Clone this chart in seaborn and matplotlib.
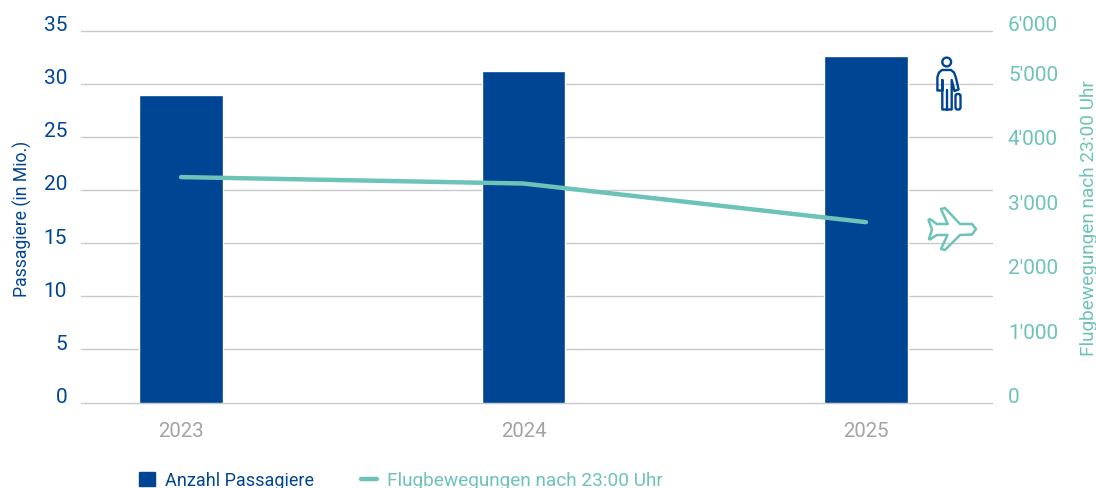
import matplotlib
matplotlib.use("Agg")
import matplotlib.pyplot as plt
from matplotlib.lines import Line2D
from matplotlib.patches import Patch, Circle, FancyBboxPatch, Polygon
from matplotlib.transforms import ScaledTranslation
import pandas as pd
import seaborn as sns

years = ["2023", "2024", "2025"]
passagiere = [28.95, 31.2, 32.6]
fluege = [3500, 3400, 2800]
left_ticks = [0, 5, 10, 15, 20, 25, 30, 35]
# the top label of the right axis sits at the axis end, not on the 1'000 spacing
right_top = 5776
right_ticks = [0, 1000, 2000, 3000, 4000, 5000, right_top]
right_labels = ["0", "1'000", "2'000", "3'000", "4'000", "5'000", "6'000"]

BLUE = "#004494"
TEAL = "#6dc3b8"
GREY = "#a3a3a3"
GRID = "#c8c8c8"

sns.set_style("white")
plt.rcParams["font.family"] = ["Roboto", "DejaVu Sans"]

df = pd.DataFrame({"jahr": years, "passagiere": passagiere, "fluege": fluege})

W, H = 1096, 489
fig = plt.figure(figsize=(W / 100, H / 100), dpi=100)
ax = fig.add_axes([81 / W, 1 - 403.5 / H, 911 / W, 372 / H])

sns.barplot(data=df, x="jahr", y="passagiere", color=BLUE, saturation=1, width=0.245, ax=ax)
ax.set_xlim(-0.292, 2.368)
ax.set_ylim(0, 35)
ax.set_yticks(left_ticks)
ax.set_axisbelow(True)
ax.grid(axis="y", color=GRID, lw=1)
for g in ax.get_ygridlines():
    g.set_clip_on(False)
ax.set_xlabel("")
ax.set_ylabel("Passagiere (in Mio.)", color=BLUE, fontsize=12.7)
ax.yaxis.set_label_coords(-49 / 911, 0.497)
ax.tick_params(axis="y", length=0, labelsize=15, labelcolor=BLUE, pad=10)
ax.tick_params(axis="x", length=0, labelsize=14.7, labelcolor=GREY, pad=13.5)
sns.despine(ax=ax, left=True, right=True, top=True, bottom=True)

ax2 = ax.twinx()
sns.lineplot(data=df, x="jahr", y="fluege", color=TEAL, lw=3.2, ax=ax2, sort=False, legend=False)
ax2.set_xlim(-0.292, 2.368)
ax2.set_ylim(0, right_top)
ax2.set_yticks(right_ticks)
ax2.set_yticklabels(right_labels)
ax2.grid(False)
ax2.set_ylabel("Flugbewegungen nach 23:00 Uhr", color=TEAL, fontsize=13.7, rotation=90)
ax2.yaxis.set_label_coords(1 + 88 / 911, 0.497)
ax2.tick_params(axis="y", length=0, labelsize=15, labelcolor=TEAL, pad=11.5)
sns.despine(ax=ax2, left=True, right=True, top=True, bottom=True)

# tick labels sit a little above their gridlines
up = ScaledTranslation(0, 6 / 100, fig.dpi_scale_trans)
for lab in ax.get_yticklabels() + ax2.get_yticklabels():
    lab.set_va("center")
    lab.set_transform(lab.get_transform() + up)

# Icons, drawn on an overlay in pixel coordinates
over = fig.add_axes([0, 0, 1, 1])
over.set_xlim(0, W)
over.set_ylim(H, 0)
over.axis("off")
over.patch.set_alpha(0)

over.add_patch(Circle((946.7, 63), 4.4, fc="white", ec=BLUE, lw=1.7))
body = [(937.4, 90.5), (937.4, 78), (939, 73.5), (942, 71), (951, 71), (954, 73.5), (956, 79),
        (958.6, 90.5), (954.5, 92), (951.7, 81), (951.7, 110.5), (942.3, 110.5), (942.3, 81), (942.3, 91.5), (937.4, 91.5)]
over.add_patch(Polygon(body, closed=True, fc="none", ec=BLUE, lw=1.7, joinstyle="round"))
over.plot([947, 947], [91, 110.5], color=BLUE, lw=1.7)
over.add_patch(FancyBboxPatch((955.5, 95), 5, 15.5, boxstyle="round,pad=0,rounding_size=2",
                              fc="white", ec=BLUE, lw=1.7))

plane = [(976, 230), (972, 225), (960, 225), (945, 209), (941, 210), (947.7, 225), (936.7, 225),
         (930, 220), (928.5, 221), (932, 230.5), (929, 240), (930, 240.5), (936.7, 236), (947.5, 236),
         (941, 250), (945, 251), (960, 236), (972, 235.5)]
over.add_patch(Polygon(plane, closed=True, fc="none", ec=TEAL, lw=1.8, joinstyle="round"))

handles = [Patch(color=BLUE, label="Anzahl Passagiere"),
           Line2D([0], [0], color=TEAL, lw=3.2, label="Flugbewegungen nach 23:00 Uhr")]
leg = fig.legend(handles=handles, ncol=2, frameon=False, fontsize=13, loc="lower left",
                 bbox_to_anchor=(123 / W, -0.036), handlelength=0.89, handleheight=0.8,
                 handletextpad=0.55, columnspacing=2.6)
for text, col, size in zip(leg.get_texts(), [BLUE, TEAL], [13, 13.7]):
    text.set_color(col)
    text.set_fontsize(size)

fig.savefig("out.png", dpi=100, facecolor="white")
plt.close(fig)
